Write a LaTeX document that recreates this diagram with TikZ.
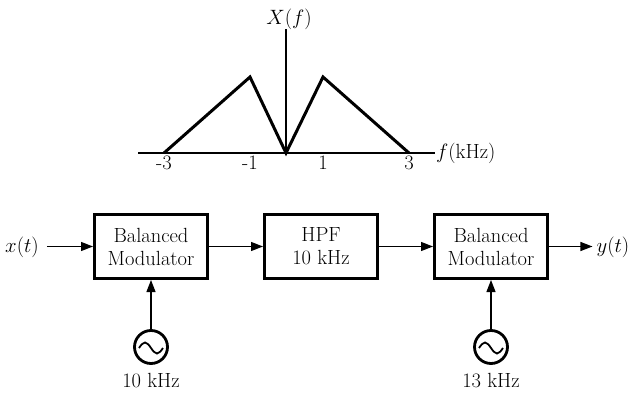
\documentclass[tikz,border=0pt]{standalone}
\usetikzlibrary{arrows.meta}
\begin{document}
\begin{tikzpicture}[x=1pt,y=-1pt,
  every node/.style={font=\fontsize{20.5}{23}\selectfont},
  blk/.style={draw,line width=3pt,minimum width=113pt,minimum height=64pt,align=center,inner sep=0pt},
  osc/.style={draw,circle,line width=2.8pt,minimum size=33pt,inner sep=0pt},
  conn/.style={line width=1.2pt,-{Triangle[length=12pt,width=9pt]}},
  axis/.style={line width=1.1pt},
  spec/.style={line width=3pt,line join=miter}]
\useasboundingbox (0,0) rectangle (629,393);
% spectrum
\coordinate (ax0) at (138,153);
\coordinate (ax1) at (435,153);
\coordinate (org) at (286,153);
\coordinate (vtop) at (286,29);
\draw[axis] (ax0) -- (ax1);
\draw[axis] (org) -- (vtop);
\node[anchor=west,inner sep=1pt] (flab) at (ax1) {$f$(kHz)};
\node[anchor=south,inner sep=1pt] (xlab) at (289,31) {$X(f)$};
\draw[spec] (164,153) -- (250,77) -- (286,153) -- (323,77) -- (409,153);
\node[anchor=north,inner sep=1pt] (tm3) at (164,155) {-3};
\node[anchor=north,inner sep=1pt] (tm1) at (250,155) {-1};
\node[anchor=north,inner sep=1pt] (tp1) at (323,155) {1};
\node[anchor=north,inner sep=1pt] (tp3) at (409,155) {3};
% blocks
\node[blk] (b1) at (151,246.5) {Balanced\\Modulator};
\node[blk] (b2) at (321,246.5) {HPF\\10 kHz};
\node[blk] (b3) at (491,246.5) {Balanced\\Modulator};
\node[inner sep=0pt] (xin) at (22,247) {$x(t)$};
\node[inner sep=0pt] (yout) at (613,247) {$y(t)$};
\draw[conn] ([xshift=8pt]xin.east |- b1.west) -- (b1.west);
\draw[conn] (b1.east) -- (b2.west);
\draw[conn] (b2.east) -- (b3.west);
\draw[conn] (b3.east) -- ([xshift=-4pt]yout.west |- b3.east);
% oscillators
\node[osc] (o1) at (151,347) {};
\node[osc] (o2) at (491,347) {};
\foreach \o in {o1,o2}{
  \begin{scope}[shift={(\o.center)}]
    \draw[line width=1.8pt] (-12,1) sin (-6,-4.5) cos (0,1) sin (6,6.5) cos (12,1);
  \end{scope}
}
\draw[conn] (o1.north) -- (b1.south);
\draw[conn] (o2.north) -- (b3.south);
\node (l1) at (151,381) {10 kHz};
\node (l2) at (491,381) {13 kHz};
\end{tikzpicture}
\end{document}
